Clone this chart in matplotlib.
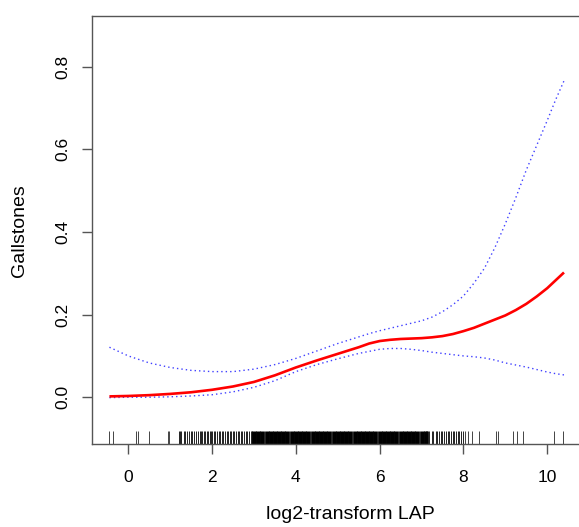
import numpy as np
import matplotlib.pyplot as plt

plt.rcParams['font.family'] = ['Liberation Sans', 'DejaVu Sans']

# smooth fit and 95% band
x_pts = [-0.45, 0, 0.5, 1, 1.5, 2, 2.5, 3, 3.5, 4, 4.5, 5, 5.5, 5.75, 6, 6.25, 6.5,
         6.75, 7, 7.25, 7.5, 7.75, 8, 8.25, 8.5, 8.75, 9, 9.25, 9.5, 9.75, 10, 10.2, 10.4]
fit = [0.002, 0.003, 0.005, 0.008, 0.012, 0.018, 0.026, 0.037, 0.053, 0.072, 0.089,
       0.105, 0.121, 0.130, 0.136, 0.139, 0.141, 0.142, 0.143, 0.145, 0.148, 0.153,
       0.160, 0.168, 0.178, 0.188, 0.198, 0.211, 0.226, 0.244, 0.264, 0.283, 0.302]
upper = [0.121, 0.100, 0.083, 0.072, 0.065, 0.062, 0.062, 0.068, 0.079, 0.094, 0.112,
         0.130, 0.146, 0.154, 0.161, 0.167, 0.173, 0.179, 0.185, 0.194, 0.207, 0.224,
         0.245, 0.276, 0.312, 0.362, 0.420, 0.483, 0.550, 0.610, 0.670, 0.720, 0.766]
lower = [-0.001, 0.0, 0.0, 0.001, 0.003, 0.006, 0.013, 0.024, 0.040, 0.062, 0.079,
         0.093, 0.106, 0.111, 0.116, 0.118, 0.118, 0.116, 0.113, 0.109, 0.106, 0.103,
         0.100, 0.098, 0.095, 0.090, 0.083, 0.078, 0.073, 0.067, 0.061, 0.057, 0.054]

# rug of observed log2(LAP) values
rug_sparse = [-0.45, -0.36, 0.18, 0.23, 0.50, 0.95, 0.98,
              8.04, 8.11, 8.21, 8.38, 8.77, 8.82, 9.19, 9.27, 9.43, 10.16, 10.38]
rug_mid = [1.20, 1.23, 1.27, 1.32, 1.36, 1.41, 1.45, 1.50, 1.53, 1.58, 1.62, 1.66,
           1.70, 1.73, 1.77, 1.80, 1.84, 1.87, 1.90, 1.94, 1.97, 2.01, 2.05, 2.08,
           2.12, 2.16, 2.20, 2.23, 2.27, 2.31, 2.35, 2.38, 2.42, 2.46, 2.50, 2.53,
           2.57, 2.61, 2.65, 2.69, 2.72, 2.76, 2.80, 2.84, 2.88, 2.92, 2.96,
           7.10, 7.14, 7.18, 7.24, 7.28, 7.34, 7.38, 7.42, 7.46, 7.50, 7.54, 7.58,
           7.62, 7.66, 7.70, 7.74, 7.78, 7.82, 7.86, 7.90, 7.95, 7.99]
rug_dense = [3.0, 3.1, 3.2, 3.3, 3.4, 3.5, 3.6, 3.7, 3.8, 3.9, 4.0, 4.1, 4.2, 4.3,
             4.4, 4.5, 4.6, 4.7, 4.8, 4.9, 5.0, 5.1, 5.2, 5.3, 5.4, 5.5, 5.6, 5.7,
             5.8, 5.9, 6.0, 6.1, 6.2, 6.3, 6.4, 6.5, 6.6, 6.7, 6.8, 6.9, 7.0, 7.1]

xticks = [0, 2, 4, 6, 8, 10]
yticks = [0.0, 0.2, 0.4, 0.6, 0.8]

fig = plt.figure(figsize=(5.79, 5.27), dpi=100)
ax = fig.add_axes([92/579, 82.7/527, 490/579, 428.3/527])

ax.plot(x_pts, upper, color='#4040ff', lw=1.0, linestyle=(0, (1, 2.2)))
ax.plot(x_pts, lower, color='#4040ff', lw=1.0, linestyle=(0, (1, 2.2)))
ax.plot(x_pts, fit, color='red', lw=1.9, solid_capstyle='butt')

tr = ax.get_xaxis_transform()
ax.vlines(rug_sparse, 0, 0.03, transform=tr, color='#444444', lw=0.7)
ax.vlines(rug_mid, 0, 0.03, transform=tr, color='#222222', lw=0.7)
ax.vlines(rug_dense, 0, 0.03, transform=tr, color='black', lw=3.4)

ax.set_xlim(-0.866, 10.83)
ax.set_ylim(-0.114, 0.923)
ax.set_xticks(xticks)
ax.set_xticklabels([str(v) for v in xticks])
ax.set_yticks(yticks)
ax.set_yticklabels([f'{v:.1f}' for v in yticks], rotation=90, va='center')

for s in ax.spines.values():
    s.set_color('#555555')
    s.set_linewidth(1.0)
ax.tick_params(length=7.5, width=1.0, color='#555555', labelsize=12.5)
ax.tick_params(axis='x', pad=11)
ax.tick_params(axis='y', pad=8)

ax.set_xlabel('log2-transform LAP', fontsize=14)
ax.xaxis.set_label_coords((350 - 92) / 490, (444.3 - 506) / 428.3)
ax.set_ylabel('Gallstones', fontsize=14)
ax.yaxis.set_label_coords((28 - 92) / 490, 0.5)

plt.savefig('out.png', dpi=100)
